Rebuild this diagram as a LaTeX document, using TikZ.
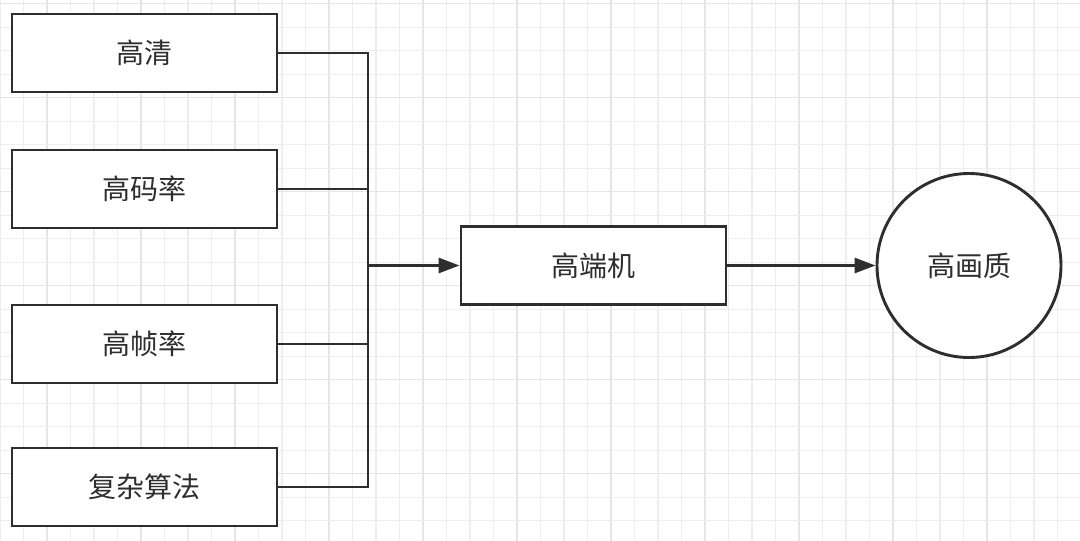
\documentclass[tikz,border=0pt]{standalone}
\usepackage{fontspec}
\newfontfamily\cjk{Noto Sans CJK SC}
\usetikzlibrary{arrows.meta}
\definecolor{ink}{HTML}{2E2E2E}
\definecolor{gridminor}{HTML}{EEEEEE}
\definecolor{gridmajor}{HTML}{E6E6E6}
\tikzset{
  boxnode/.style={draw=ink, line width=2.9pt, fill=white, rectangle, minimum width=265pt, minimum height=78pt, inner sep=0pt, font=\cjk\fontsize{28pt}{32pt}\selectfont, text=ink},
  roundnode/.style={draw=ink, line width=2.9pt, fill=white, circle, minimum size=184pt, inner sep=0pt, font=\cjk\fontsize{28pt}{32pt}\selectfont, text=ink},
  wire/.style={draw=ink, line width=2.9pt},
  arrowwire/.style={draw=ink, line width=2.9pt, -{Triangle[length=21pt,width=15pt]}},
}
\begin{document}
\begin{tikzpicture}[x=1pt,y=-1pt]
\useasboundingbox (0,0) rectangle (1080,541);
\fill[white] (0,0) rectangle (1080,541);
% grid
\foreach \k in {0,...,46} {
  \pgfmathsetmacro{\xx}{23.5*\k}
  \pgfmathtruncatemacro{\m}{mod(\k,4)}
  \ifnum\m=2
    \draw[gridmajor, line width=1.1pt] (\xx,0) -- (\xx,541);
  \else
    \draw[gridminor, line width=1.1pt] (\xx,0) -- (\xx,541);
  \fi
}
\foreach \k in {0,...,23} {
  \pgfmathsetmacro{\yy}{3.7+23.5*\k}
  \pgfmathtruncatemacro{\m}{mod(\k,4)}
  \ifnum\m=0
    \draw[gridmajor, line width=1.1pt] (0,\yy) -- (1080,\yy);
  \else
    \draw[gridminor, line width=1.1pt] (0,\yy) -- (1080,\yy);
  \fi
}
% nodes
\node[boxnode] (b1) at (144.5,53) {高清};
\node[boxnode] (b2) at (144.5,189) {高码率};
\node[boxnode] (b3) at (144.5,344) {高帧率};
\node[boxnode] (b4) at (144.5,487) {复杂算法};
\node[boxnode] (m) at (593.5,265.5) {高端机};
\node[roundnode] (q) at (969,265.5) {高画质};
\coordinate (j) at (368,265.5);
% connectors
\draw[wire] (b1.east) -| (j);
\draw[wire] (b4.east) -| (j);
\draw[wire] (b2.east) -- (b2.east -| j);
\draw[wire] (b3.east) -- (b3.east -| j);
\draw[arrowwire] (j) -- (m.west);
\draw[arrowwire] (m.east) -- (q.west);
\end{tikzpicture}
\end{document}
